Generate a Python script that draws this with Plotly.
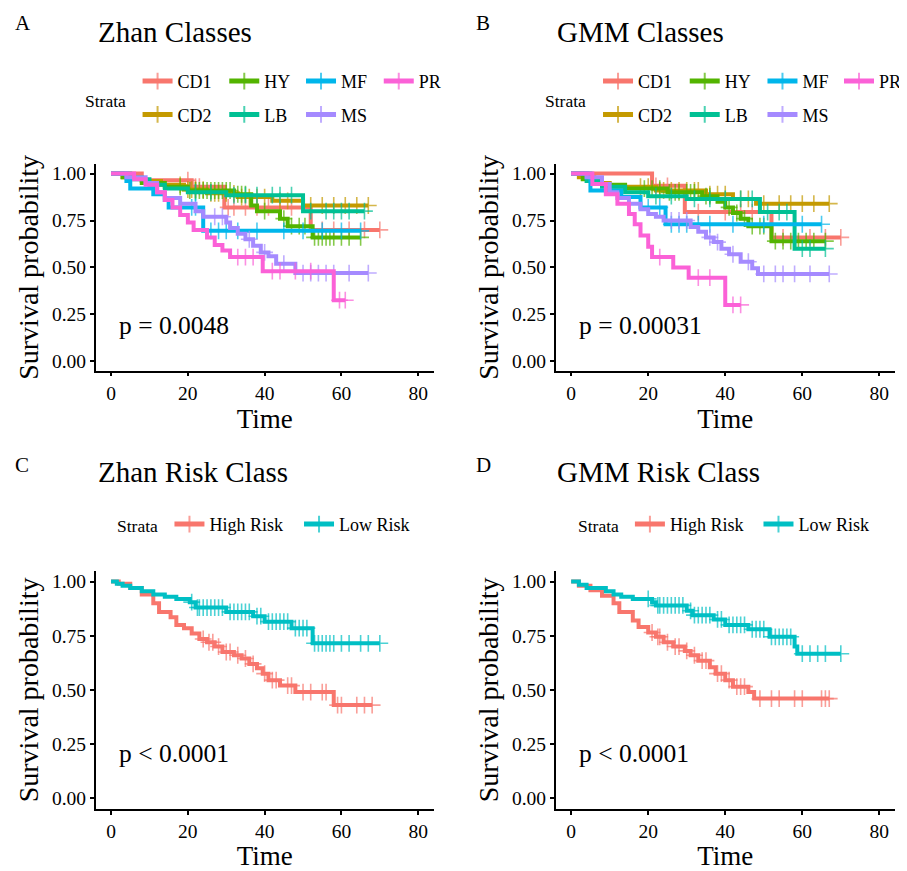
import plotly.graph_objects as go

# The page adds an 8px body margin, so the figure is sized to fit the window
W, H = 899, 863
OFF = 8
FONT = "Liberation Serif"

STRATA7 = ["CD1", "CD2", "HY", "LB", "MF", "MS", "PR"]
COLORS7 = {"CD1": "#F8766D", "CD2": "#C49A00", "HY": "#53B400", "LB": "#00C094",
           "MF": "#00B6EB", "MS": "#A58AFF", "PR": "#FB61D7"}
STRATA2 = ["High Risk", "Low Risk"]
COLORS2 = {"High Risk": "#F8766D", "Low Risk": "#00BFC4"}

X_TICKS = [0, 20, 40, 60, 80]
Y_TICKS = [0.0, 0.25, 0.5, 0.75, 1.0]
Y_TICK_LABELS = ["0.00", "0.25", "0.50", "0.75", "1.00"]

# ---------------- Panel A: Zhan Classes ----------------
ZHAN_CLASS_EVENT_T = {
    "CD1": [8, 21, 29.5, 52],
    "CD2": [3, 8, 13, 19, 25, 33, 42, 50],
    "HY": [3, 8, 14, 20, 32, 36.5, 38, 44, 46, 52.5],
    "LB": [5, 10, 14, 20, 30, 50],
    "MF": [4, 5, 11, 14, 15, 24],
    "MS": [4, 9, 12, 14, 18, 22, 24, 30, 31, 33, 35, 37, 39, 41, 43, 48],
    "PR": [6, 9, 12, 14, 16, 18, 20, 21.5, 25, 27, 29, 31, 39.5, 58],
}
ZHAN_CLASS_EVENT_S = {
    "CD1": [0.965, 0.93, 0.82, 0.70],
    "CD2": [0.98, 0.96, 0.94, 0.915, 0.895, 0.875, 0.855, 0.83],
    "HY": [0.98, 0.95, 0.93, 0.91, 0.89, 0.83, 0.80, 0.76, 0.72, 0.66],
    "LB": [0.97, 0.94, 0.92, 0.90, 0.885, 0.80],
    "MF": [0.96, 0.92, 0.89, 0.86, 0.82, 0.695],
    "MS": [0.98, 0.95, 0.90, 0.87, 0.84, 0.80, 0.77, 0.74, 0.71, 0.68, 0.65, 0.615, 0.58, 0.56, 0.52, 0.47],
    "PR": [0.97, 0.94, 0.90, 0.86, 0.82, 0.78, 0.74, 0.70, 0.66, 0.62, 0.59, 0.555, 0.48, 0.325],
}
ZHAN_CLASS_CENSOR_T = {
    "CD1": [20, 22, 23, 30.5, 32, 35, 38, 41, 44, 47, 55, 58, 62, 66, 70],
    "CD2": [18, 20, 21, 22, 24, 26, 27, 28, 30, 32, 34, 36, 38, 40, 44, 46, 52, 55, 58, 61, 64, 67],
    "HY": [18, 20.5, 22, 23, 24, 25, 26, 27, 28, 29, 30, 31, 33, 34, 35, 40, 45, 47, 49, 50.5,
           53, 54, 55, 56, 57, 58, 60, 62, 65],
    "LB": [22, 26, 32, 35, 38, 42, 44, 47, 52, 56, 58, 60, 62, 66],
    "MF": [21, 22, 26, 28, 30, 33, 38, 45, 50, 55, 60, 65],
    "MS": [27, 29, 36, 40, 45, 50, 52, 54, 56, 58, 62, 67],
    "PR": [33, 35, 37, 42, 44, 48, 52, 59.5, 61],
}

# ---------------- Panel B: GMM Classes ----------------
GMM_CLASS_EVENT_T = {
    "CD1": [21, 29.5, 52],
    "CD2": [2, 6, 10, 22, 35, 42, 48],
    "HY": [3, 8, 14, 25, 34, 38, 40, 42, 44, 46, 52],
    "LB": [4, 8, 14, 20, 30, 49, 58],
    "MF": [5, 13, 18, 24.5],
    "MS": [4, 8, 10, 12, 15, 18, 20, 22, 24, 31, 33, 35, 37, 39, 41, 44, 47, 48.5],
    "PR": [5.5, 9, 12, 15, 16.5, 18, 20, 21, 26.5, 30.5, 40],
}
GMM_CLASS_EVENT_S = {
    "CD1": [0.935, 0.795, 0.66],
    "CD2": [0.98, 0.95, 0.93, 0.91, 0.89, 0.865, 0.84],
    "HY": [0.97, 0.94, 0.92, 0.90, 0.88, 0.85, 0.82, 0.79, 0.76, 0.72, 0.64],
    "LB": [0.96, 0.93, 0.90, 0.88, 0.865, 0.795, 0.60],
    "MF": [0.91, 0.875, 0.82, 0.73],
    "MS": [0.98, 0.945, 0.90, 0.87, 0.84, 0.81, 0.785, 0.77, 0.75, 0.715, 0.69, 0.66, 0.635,
           0.60, 0.57, 0.53, 0.495, 0.465],
    "PR": [0.945, 0.89, 0.84, 0.785, 0.73, 0.67, 0.61, 0.555, 0.50, 0.445, 0.30],
}
GMM_CLASS_CENSOR_T = {
    "CD1": [22, 25, 33, 40, 44, 47, 55, 58, 62, 66, 70],
    "CD2": [18, 20, 23, 24, 26, 28, 30, 32, 33, 36, 38, 40, 44, 46, 50, 54, 57, 60, 63, 67],
    "HY": [19, 21, 23, 25.5, 27, 28, 30, 31, 32, 35, 36, 41, 43, 45, 47, 49, 50, 53, 55, 57,
           59, 61, 63, 66],
    "LB": [22, 26, 32, 36, 40, 44, 47, 51, 54, 56, 60, 62, 66],
    "MF": [20, 23, 26, 28, 30, 33, 36, 42, 50, 60, 65],
    "MS": [26, 28, 30, 36, 38, 42, 46, 50, 53, 55, 58, 62, 67],
    "PR": [23, 33, 36, 42, 44],
}

# ---------------- Panel C: Zhan Risk Class ----------------
ZHAN_RISK_EVENT_T = {
    "High Risk": [2, 5, 8, 11, 12.5, 15.5, 17, 19, 21, 23, 25, 27, 29, 32, 34, 36, 38, 39.5,
                  41, 44, 48, 58],
    "Low Risk": [1.5, 3, 5, 8, 11, 14, 17, 20.5, 22, 30, 37, 40, 47, 52.5],
}
ZHAN_RISK_EVENT_S = {
    "High Risk": [0.99, 0.97, 0.94, 0.90, 0.86, 0.835, 0.80, 0.785, 0.76, 0.735, 0.72, 0.70,
                  0.675, 0.66, 0.645, 0.62, 0.60, 0.575, 0.545, 0.52, 0.49, 0.43],
    "Low Risk": [0.99, 0.98, 0.97, 0.955, 0.94, 0.93, 0.92, 0.905, 0.88, 0.86, 0.84, 0.815,
                 0.785, 0.715],
}
ZHAN_RISK_CENSOR_T = {
    "High Risk": [24, 25.5, 26.5, 28, 30, 31, 33, 35, 37, 40, 42, 43, 46, 47, 50, 52, 55, 56,
                  59, 60, 64, 66, 68],
    "Low Risk": [21, 22.5, 23, 24, 25, 26, 27, 28, 29, 31, 32, 33, 34, 35, 36, 38, 39, 41, 42,
                 43, 44, 45, 46, 48, 49, 50, 51, 53, 54, 55, 56, 57, 58, 60, 62, 65, 67, 70],
}

# ---------------- Panel D: GMM Risk Class ----------------
GMM_RISK_EVENT_T = {
    "High Risk": [2, 5, 8, 11, 12.5, 16, 17.5, 20, 22, 24, 26.5, 29.5, 31, 33, 36, 37.5, 40,
                  42, 46, 47.5],
    "Low Risk": [2, 4, 9, 11, 13, 16, 21, 22, 30, 31.5, 37, 40, 46, 51.5, 58, 58.7],
}
GMM_RISK_EVENT_S = {
    "High Risk": [0.98, 0.96, 0.935, 0.90, 0.86, 0.82, 0.79, 0.765, 0.745, 0.72, 0.70, 0.68,
                  0.66, 0.635, 0.605, 0.575, 0.545, 0.515, 0.49, 0.46],
    "Low Risk": [0.985, 0.97, 0.955, 0.94, 0.93, 0.92, 0.905, 0.89, 0.865, 0.845, 0.825, 0.80,
                 0.78, 0.745, 0.70, 0.667],
}
GMM_RISK_CENSOR_T = {
    "High Risk": [21, 22.5, 23, 25, 27, 28, 30, 32, 34, 35, 38, 39, 41, 43, 44, 45, 49, 52,
                  54, 58, 60, 65, 66, 67],
    "Low Risk": [20, 22.5, 23, 24, 25, 26, 27, 28, 29, 31, 32, 33, 34, 35, 36, 38, 39, 41, 42,
                 43, 44, 45, 47, 48, 49, 50, 52, 53, 54, 55, 56, 57, 60, 62, 64, 66, 70],
}

PANEL_TITLES = ["Zhan Classes", "GMM Classes", "Zhan Risk Class", "GMM Risk Class"]
PANEL_LETTERS = ["A", "B", "C", "D"]
P_VALUES = ["p = 0.0048", "p = 0.00031", "p < 0.0001", "p < 0.0001"]


def km_path(ev_t, ev_s, cens_t):
    items = [(t, 0, s) for t, s in zip(ev_t, ev_s)] + [(t, 1, None) for t in cens_t]
    items.sort(key=lambda it: (it[0], it[1]))
    xs, ys, sizes = [0.0], [1.0], [0]
    cur = 1.0
    for t, kind, s in items:
        if kind == 0:
            cur = s
            sizes.append(0)
        else:
            sizes.append(12)
        xs.append(t)
        ys.append(cur)
    return xs, ys, sizes


def px(x):
    return (x - OFF) / W


def py(y):
    return 1 - (y - OFF) / H


fig = go.Figure()

panels = [
    (ZHAN_CLASS_EVENT_T, ZHAN_CLASS_EVENT_S, ZHAN_CLASS_CENSOR_T, STRATA7, COLORS7, "x", "y"),
    (GMM_CLASS_EVENT_T, GMM_CLASS_EVENT_S, GMM_CLASS_CENSOR_T, STRATA7, COLORS7, "x2", "y2"),
    (ZHAN_RISK_EVENT_T, ZHAN_RISK_EVENT_S, ZHAN_RISK_CENSOR_T, STRATA2, COLORS2, "x3", "y3"),
    (GMM_RISK_EVENT_T, GMM_RISK_EVENT_S, GMM_RISK_CENSOR_T, STRATA2, COLORS2, "x4", "y4"),
]

COL7 = {"CD1": 0, "CD2": 0, "HY": 1, "LB": 1, "MF": 2, "MS": 2, "PR": 3}
COL2 = {"High Risk": 0, "Low Risk": 1}
legend_names = [["legend", "legend2", "legend3", "legend4"],
                ["legend5", "legend6", "legend7", "legend8"],
                ["legend9", "legend10"],
                ["legend11", "legend12"]]

for pi, (ET, ES, CT, strata, colors, xa, ya) in enumerate(panels):
    colmap = COL7 if len(strata) == 7 else COL2
    for s in strata:
        xs, ys, sizes = km_path(ET[s], ES[s], CT[s])
        fig.add_trace(go.Scatter(
            x=xs, y=ys, mode="lines+markers", name=s,
            line=dict(color=colors[s], width=4, shape="hv"),
            marker=dict(symbol="cross-thin", size=sizes, color=colors[s],
                        line=dict(color=colors[s], width=1.6)),
            xaxis=xa, yaxis=ya, legendgroup=f"p{pi}_{s}",
            legend=legend_names[pi][colmap[s]], hoverinfo="x+y+name",
        ))

axis_common = dict(showline=True, linecolor="black", linewidth=1.6, ticks="outside",
                   ticklen=4, tickwidth=1.6, tickcolor="black", showgrid=False,
                   zeroline=False, tickfont=dict(size=19.5, color="black", family=FONT))

x_dom_left = [px(96), px(435)]
x_dom_right = [px(557.6), px(897.7)]
y_dom_top = [py(370.4), py(163.6)]
y_dom_bot = [py(810), py(571)]

doms = [(x_dom_left, y_dom_top), (x_dom_right, y_dom_top),
        (x_dom_left, y_dom_bot), (x_dom_right, y_dom_bot)]

layout = dict(
    width=W, height=H, margin=dict(l=0, r=0, t=0, b=0),
    paper_bgcolor="white", plot_bgcolor="white",
    font=dict(family=FONT, color="black"),
    showlegend=True,
)
for i, (xd, yd) in enumerate(doms):
    sfx = "" if i == 0 else str(i + 1)
    layout["xaxis" + sfx] = dict(axis_common, domain=xd, range=[-4, 84], tickvals=X_TICKS,
                                 anchor="y" + sfx,
                                 title=dict(text="Time", font=dict(size=27, family=FONT),
                                            standoff=3))
    layout["yaxis" + sfx] = dict(axis_common, domain=yd, range=[-0.05, 1.05], tickvals=Y_TICKS,
                                 ticktext=Y_TICK_LABELS, anchor="x" + sfx,
                                 title=dict(text="Survival probability",
                                            font=dict(size=28, family=FONT), standoff=5))


def legend_at(x_px, top_px):
    return dict(x=px(x_px), y=py(top_px), xanchor="left", yanchor="top", orientation="v",
                font=dict(size=18, family=FONT, color="black"), bgcolor="rgba(0,0,0,0)",
                tracegroupgap=7, itemsizing="constant", borderwidth=0)


legend_x = [[138, 225, 302, 380], [600, 687, 765, 842], [170, 300], [632, 761]]
legend_top = [62, 62, 506, 506]
for pi in range(4):
    for ci, name in enumerate(legend_names[pi]):
        layout[name] = legend_at(legend_x[pi][ci], legend_top[pi])

annotations = []
title_pos = [(96, 31), (557, 31), (96, 472), (557, 472)]
letter_pos = [(13, 22), (476, 22), (13, 465), (476, 465)]
strata_pos = [(83, 100), (545, 100), (115, 526), (578, 526)]
for i in range(4):
    annotations.append(dict(text=PANEL_TITLES[i], x=px(title_pos[i][0]), y=py(title_pos[i][1]),
                            xref="paper", yref="paper", xanchor="left", yanchor="middle",
                            showarrow=False, font=dict(size=29, family=FONT, color="black")))
    annotations.append(dict(text=PANEL_LETTERS[i], x=px(letter_pos[i][0]), y=py(letter_pos[i][1]),
                            xref="paper", yref="paper", xanchor="left", yanchor="middle",
                            showarrow=False, font=dict(size=21, family=FONT, color="black")))
    annotations.append(dict(text="Strata", x=px(strata_pos[i][0]), y=py(strata_pos[i][1]),
                            xref="paper", yref="paper", xanchor="left", yanchor="middle",
                            showarrow=False, font=dict(size=17.5, family=FONT, color="black")))
    sfx = "" if i == 0 else str(i + 1)
    annotations.append(dict(text=P_VALUES[i], x=1.5, y=0.19 if i < 2 else 0.205,
                            xref="x" + sfx, yref="y" + sfx, xanchor="left", yanchor="middle",
                            showarrow=False, font=dict(size=25.5, family=FONT, color="black")))
layout["annotations"] = annotations

fig.update_layout(**layout)
fig.write_html("out.html")
